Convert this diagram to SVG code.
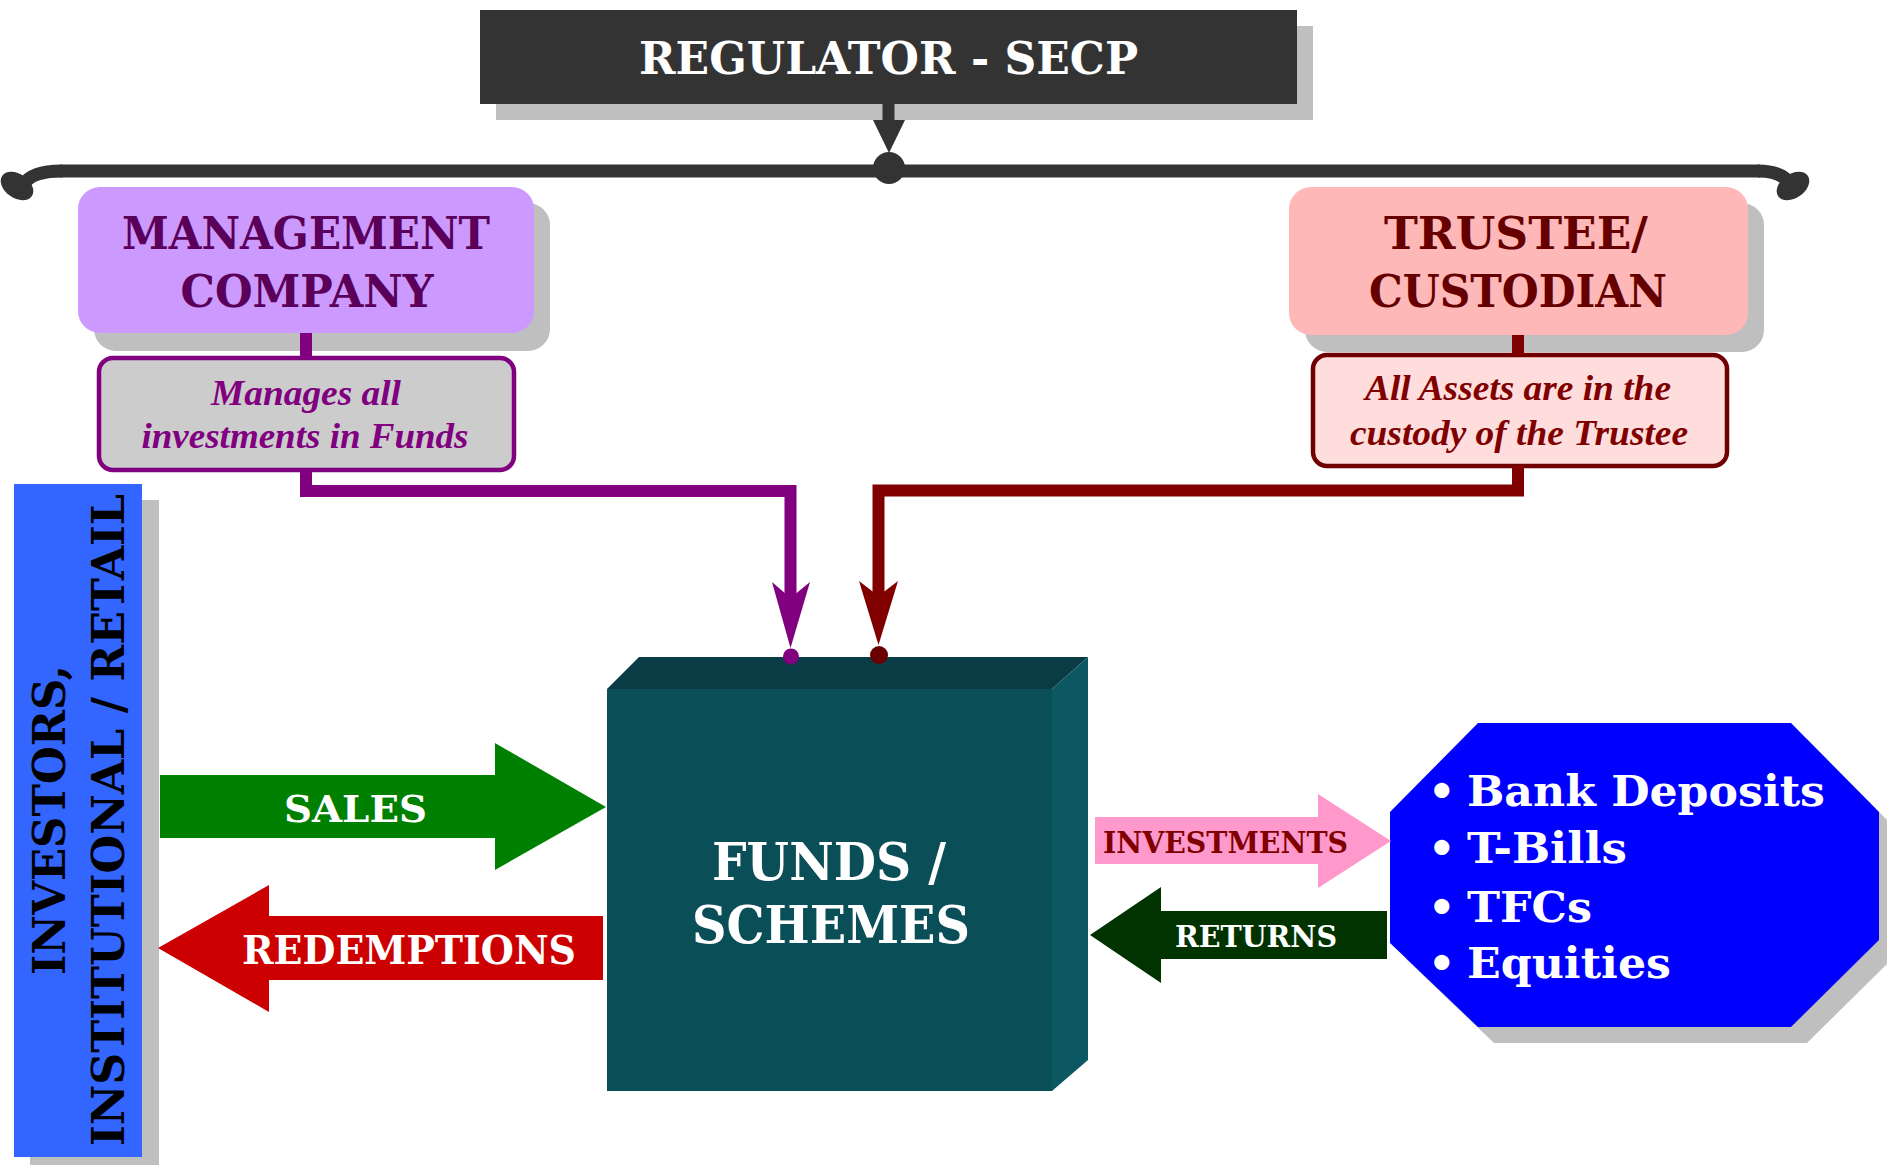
<svg xmlns="http://www.w3.org/2000/svg" width="1887" height="1165" viewBox="0 0 1887 1165">
<style>
.t{font-family:"DejaVu Serif","Liberation Serif",serif;font-weight:bold;text-anchor:middle}
.it{font-family:"Liberation Serif","DejaVu Serif",serif;font-weight:bold;font-style:italic;text-anchor:middle}
.sh{fill:#BFBFBF}
.cn{fill:none;stroke-width:12;stroke-linejoin:miter}
</style>
<rect width="1887" height="1165" fill="#FFFFFF"/>

<g id="regulator">
  <rect class="sh" x="496" y="26" width="817" height="94"/>
  <rect x="480" y="10" width="817" height="94" fill="#333333"/>
  <text class="t" x="888.5" y="74" font-size="45" fill="#FFFFFF" textLength="499" lengthAdjust="spacingAndGlyphs">REGULATOR - SECP</text>
</g>

<g id="management">
  <rect class="sh" x="94" y="203" width="456" height="148" rx="22"/>
  <rect x="78" y="187" width="456" height="146" rx="22" fill="#CC99FF"/>
  <text class="t" x="306" y="249" font-size="45" fill="#5A0058" textLength="368" lengthAdjust="spacingAndGlyphs">MANAGEMENT</text>
  <text class="t" x="307" y="307" font-size="45" fill="#5A0058" textLength="253" lengthAdjust="spacingAndGlyphs">COMPANY</text>
</g>

<g id="management-note">
  <rect x="99" y="358" width="415" height="112" rx="14" fill="#CCCCCC" stroke="#800080" stroke-width="4.5"/>
  <text class="it" x="306" y="405" font-size="36" fill="#800080" textLength="190" lengthAdjust="spacingAndGlyphs">Manages all</text>
  <text class="it" x="305" y="448" font-size="36" fill="#800080" textLength="327" lengthAdjust="spacingAndGlyphs">investments in Funds</text>
</g>

<g id="trustee">
  <rect class="sh" x="1305" y="203" width="459" height="149" rx="22"/>
  <rect x="1289" y="187" width="459" height="148" rx="22" fill="#FFB8B8"/>
  <text class="t" x="1516" y="249" font-size="45" fill="#660000" textLength="264" lengthAdjust="spacingAndGlyphs">TRUSTEE/</text>
  <text class="t" x="1518" y="307" font-size="45" fill="#660000" textLength="298" lengthAdjust="spacingAndGlyphs">CUSTODIAN</text>
</g>

<g id="trustee-note">
  <rect x="1313" y="355" width="414" height="111" rx="14" fill="#FFDDDD" stroke="#700000" stroke-width="4.5"/>
  <text class="it" x="1518" y="400" font-size="36" fill="#800000" textLength="306" lengthAdjust="spacingAndGlyphs">All Assets are in the</text>
  <text class="it" x="1519" y="445" font-size="36" fill="#800000" textLength="338" lengthAdjust="spacingAndGlyphs">custody of the Trustee</text>
</g>

<g id="investors">
  <rect class="sh" x="30" y="500" width="129" height="680"/>
  <rect x="14" y="484" width="128" height="673" fill="#3366FF"/>
  <text class="t" transform="translate(65 820) rotate(-90)" x="0" y="0" font-size="44" fill="#000000" textLength="310" lengthAdjust="spacingAndGlyphs">INVESTORS,</text>
  <text class="t" transform="translate(124 820) rotate(-90)" x="0" y="0" font-size="44" fill="#000000" textLength="652" lengthAdjust="spacingAndGlyphs">INSTITUTIONAL / RETAIL</text>
</g>

<g id="funds">
  <polygon fill="#093C45" points="607,689 639,657 1088,657 1052,689"/>
  <polygon fill="#0B5862" points="1052,689 1088,657 1088,1060 1052,1091"/>
  <rect x="607" y="689" width="445" height="402" fill="#0A4F58"/>
  <text class="t" x="829" y="880" font-size="52" fill="#FFFFFF" textLength="234" lengthAdjust="spacingAndGlyphs">FUNDS /</text>
  <text class="t" x="831" y="943" font-size="52" fill="#FFFFFF" textLength="278" lengthAdjust="spacingAndGlyphs">SCHEMES</text>
</g>

<g id="assets">
  <polygon class="sh" points="1494,739 1807,739 1895,828 1895,956 1807,1043 1494,1043 1406,959 1406,828"/>
  <polygon fill="#0000FF" points="1478,723 1791,723 1879,812 1879,940 1791,1027 1478,1027 1390,943 1390,812"/>
  <g fill="#FFFFFF" font-size="43" style="font-family:'DejaVu Serif','Liberation Serif',serif;font-weight:bold">
    <text x="1428" y="806">•</text>
    <text x="1467" y="806" textLength="358" lengthAdjust="spacingAndGlyphs">Bank Deposits</text>
    <text x="1428" y="863">•</text>
    <text x="1467" y="863" textLength="160" lengthAdjust="spacingAndGlyphs">T-Bills</text>
    <text x="1428" y="922">•</text>
    <text x="1467" y="922" textLength="125" lengthAdjust="spacingAndGlyphs">TFCs</text>
    <text x="1428" y="978">•</text>
    <text x="1467" y="978" textLength="204" lengthAdjust="spacingAndGlyphs">Equities</text>
  </g>
</g>

<g id="connectors">
  <g id="bracket" fill="#333333">
    <path d="M 60 171 L 1760 171" stroke="#333333" stroke-width="13" fill="none"/>
    <path d="M 62 171 Q 32 171 24 184" stroke="#333333" stroke-width="13" fill="none"/>
    <path d="M 1758 171 Q 1782 171 1790 184" stroke="#333333" stroke-width="13" fill="none"/>
    <ellipse cx="17" cy="186" rx="18" ry="12" transform="rotate(35 17 186)"/>
    <ellipse cx="1793" cy="186" rx="18" ry="12" transform="rotate(-35 1793 186)"/>
  </g>
  <g id="reg-arrow" fill="#333333">
    <rect x="882.5" y="103" width="12" height="20"/>
    <polygon points="873,120 905,120 889,153"/>
    <circle cx="889" cy="168" r="16"/>
  </g>
  <g id="mgmt-link">
    <path class="cn" stroke="#800080" d="M 306 333 L 306 358"/>
    <path class="cn" stroke="#800080" d="M 306 470 L 306 491 L 790.5 491 L 790.5 600"/>
    <polygon fill="#800080" points="790.5,648 772,582 790.5,598 810,582"/>
    <circle cx="791" cy="656.5" r="8" fill="#800080"/>
  </g>
  <g id="trustee-link">
    <path class="cn" stroke="#800000" d="M 1518 335 L 1518 355"/>
    <path class="cn" stroke="#800000" d="M 1518 466 L 1518 490.5 L 878.5 490.5 L 878.5 598"/>
    <polygon fill="#800000" points="878.5,645 859,581 878.5,596 898,581"/>
    <circle cx="879" cy="655" r="9" fill="#6A0000"/>
  </g>
  <g id="sales">
    <polygon fill="#008000" points="160,775 495,775 495,743 606,807 495,870 495,838 160,838"/>
    <text class="t" x="355.5" y="822" font-size="38" fill="#FFFFFF" textLength="143" lengthAdjust="spacingAndGlyphs">SALES</text>
  </g>
  <g id="redemptions">
    <polygon fill="#CC0000" points="603,916 269,916 269,885 158,948 269,1012 269,980 603,980"/>
    <text class="t" x="409" y="964" font-size="40" fill="#FFFFFF" textLength="334" lengthAdjust="spacingAndGlyphs">REDEMPTIONS</text>
  </g>
  <g id="investments">
    <polygon fill="#FF99CC" points="1095,817 1318,817 1318,794 1391,841 1318,888 1318,864 1095,864"/>
    <text class="t" x="1225.5" y="853" font-size="29" fill="#800000" textLength="245" lengthAdjust="spacingAndGlyphs">INVESTMENTS</text>
  </g>
  <g id="returns">
    <polygon fill="#003300" points="1387,911 1161,911 1161,887 1090,935 1161,983 1161,959 1387,959"/>
    <text class="t" x="1256" y="947" font-size="29" fill="#FFFFFF" textLength="162" lengthAdjust="spacingAndGlyphs">RETURNS</text>
  </g>
</g>
</svg>
